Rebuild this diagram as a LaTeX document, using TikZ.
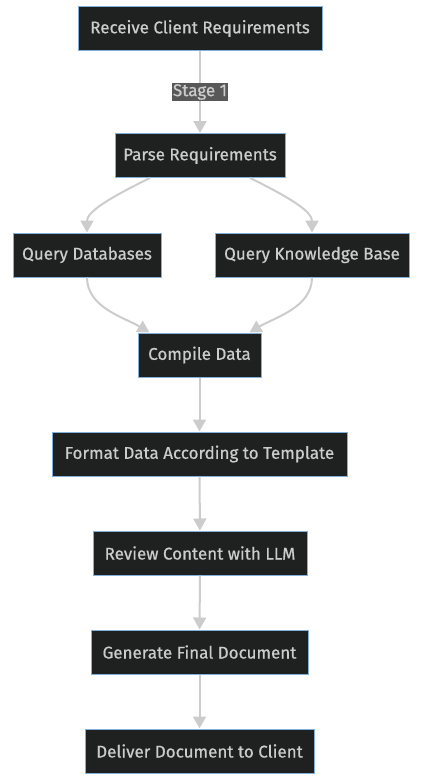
\documentclass[tikz,border=0pt]{standalone}
\usepackage{fontspec}
\setmainfont{Fira Sans}
\newfontfamily\boxfont{Fira Sans}[FakeBold=0.6]
\usetikzlibrary{arrows.meta}
\definecolor{nodefill}{HTML}{1F2020}
\definecolor{nodeborder}{HTML}{81B1DB}
\definecolor{txt}{HTML}{CCCCCC}
\definecolor{edge}{HTML}{CCCCCC}
\definecolor{lblbg}{HTML}{585858}
\begin{document}
\begin{tikzpicture}[x=1pt,y=-1pt,
  box/.style={draw=nodeborder,line width=1pt,fill=nodefill,text=txt,
    font=\boxfont\fontsize{17}{19}\selectfont,inner sep=0pt,minimum height=44pt,anchor=center},
  conn/.style={draw=edge,line width=2pt,-{Triangle[length=12pt,width=13pt]}},
  lbl/.style={fill=lblbg,text=txt,font=\boxfont\fontsize{17}{19}\selectfont,inner sep=1pt}]
\useasboundingbox (0,0) rectangle (425,782);
\node[box,minimum width=244pt] (a) at (200,28.5) {Receive Client Requirements};
\node[box,minimum width=170pt] (b) at (200,155.5) {Parse Requirements};
\node[box,minimum width=148pt] (c) at (87,255) {Query Databases};
\node[box,minimum width=194pt] (d) at (312,255) {Query Knowledge Base};
\node[box,minimum width=123pt] (e) at (199.5,355) {Compile Data};
\node[box,minimum width=295pt] (f) at (199.5,454) {Format Data According to Template};
\node[box,minimum width=214pt] (g) at (200,553) {Review Content with LLM};
\node[box,minimum width=217pt] (h) at (199.5,652) {Generate Final Document};
\node[box,minimum width=229pt] (i) at (199.5,751) {Deliver Document to Client};
\draw[conn] (a) -- node[lbl] {Stage 1} (b);
\draw[conn] (b.south) ++(-50,0) .. controls +(-45,22) and +(0,-20) .. (c.north);
\draw[conn] (b.south) ++(50,0) .. controls +(45,22) and +(0,-20) .. (d.north);
\draw[conn] (c.south) .. controls +(0,30) and +(-25,-15) .. ([xshift=-50pt]e.north);
\draw[conn] (d.south) .. controls +(0,30) and +(25,-15) .. ([xshift=50pt]e.north);
\draw[conn] (e) -- (f);
\draw[conn] (f) -- (g);
\draw[conn] (g) -- (h);
\draw[conn] (h) -- (i);
\end{tikzpicture}
\end{document}
